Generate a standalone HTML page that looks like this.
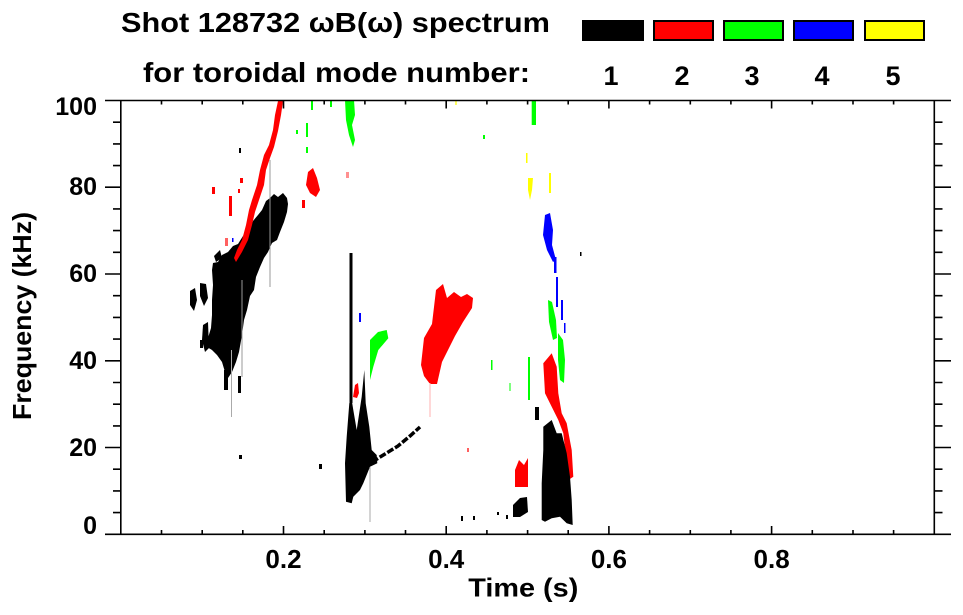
<!DOCTYPE html>
<html>
<head>
<meta charset="utf-8">
<style>
html,body{margin:0;padding:0;background:#fff;}
svg{display:block;}
text{font-family:"Liberation Sans",Arial,sans-serif;font-weight:bold;fill:#000;}
</style>
</head>
<body>
<svg width="963" height="615" viewBox="0 0 963 615" xmlns="http://www.w3.org/2000/svg">
<rect width="963" height="615" fill="#fff"/>

<!-- Title -->
<text x="121" y="32" font-size="28" textLength="429" lengthAdjust="spacingAndGlyphs">Shot 128732 ωB(ω) spectrum</text>
<text x="143" y="82" font-size="28" textLength="387" lengthAdjust="spacingAndGlyphs">for toroidal mode number:</text>

<!-- Legend -->
<rect x="582" y="20" width="62" height="21" fill="#000"/>
<rect x="654" y="21" width="59" height="19" fill="#ff0000" stroke="#000" stroke-width="2"/>
<rect x="724" y="21" width="59" height="19" fill="#00ff00" stroke="#000" stroke-width="2"/>
<rect x="794" y="21" width="59" height="19" fill="#0000ff" stroke="#000" stroke-width="2"/>
<rect x="865" y="21" width="59" height="19" fill="#ffff00" stroke="#000" stroke-width="2"/>
<g font-size="27" text-anchor="middle">
<text x="611" y="85">1</text>
<text x="682" y="85">2</text>
<text x="752" y="85">3</text>
<text x="822" y="85">4</text>
<text x="893" y="85">5</text>
</g>

<!-- DATA -->
<g>
<!-- black main blob (t~0.1-0.2) -->
<polygon fill="#000" points="213,263 218,262 222,255 228,252 233,246 238,244 243,236 248,230 253,221 258,215 262,210 266,201 270,198 274,194 278,197 283,193 287,198 288,204 287,212 284,222 280,232 277,240 272,243 268,252 264,258 260,267 256,277 254,290 250,296 247,310 244,320 242,335 239,352 236,362 232,372 228,378 225,372 222,362 217,355 212,350 207,347 208,338 211,328 212,315 212,300 213,285 212,270"/>
<polygon fill="#000" points="190,291 195,288 197,300 194,311 190,305"/>
<polygon fill="#000" points="200,283 206,284 208,298 204,306 200,296"/>
<polygon fill="#000" points="203,325 208,322 209,348 205,352 202,340"/>
<polygon fill="#000" points="214,256 220,250 222,258 216,262"/>
<rect x="224" y="370" width="4" height="20" fill="#000"/>
<rect x="238" y="376" width="3" height="17" fill="#000"/>
<rect x="231" y="350" width="1" height="67" fill="#aaa"/>
<rect x="241.5" y="280" width="1" height="97" fill="#999"/>
<rect x="269.5" y="160" width="1" height="127" fill="#999"/>
<rect x="239" y="148" width="2" height="5" fill="#000"/>
<rect x="239" y="455" width="3" height="4" fill="#000"/>
<rect x="319" y="464" width="3" height="5" fill="#000"/>
<rect x="200" y="340" width="3" height="8" fill="#000"/>

<!-- red streak -->
<polygon fill="#ff0000" points="278,101 275,115 273,130 269,145 264,155 260,170 257,185 252,200 249,210 246,225 242,240 237,250 234,258 236,262 242,252 248,240 252,225 255,212 259,200 264,185 266,170 270,158 274,147 278,131 281,115 283,101"/>
<rect x="212" y="187" width="3" height="7" fill="#ff0000"/>
<rect x="229" y="196" width="3" height="20" fill="#ff0000"/>
<rect x="240" y="178" width="3" height="5" fill="#ff0000"/>
<rect x="238" y="189" width="2" height="4" fill="#ff0000"/>
<rect x="225" y="238" width="3" height="8" fill="#ff6060"/>
<polygon fill="#ff0000" points="308,172 313,168 317,178 320,190 316,197 310,193 306,185"/>
<rect x="302" y="200" width="3" height="8" fill="#ff0000"/>
<rect x="346" y="172" width="3" height="6" fill="#ff9090"/>

<!-- green top -->
<polygon fill="#00ff00" points="345,100 354,100 355,115 352,125 355,140 353,147 349,135 346,120"/>
<rect x="306" y="123" width="2" height="14" fill="#00ff00"/>
<rect x="311" y="100" width="2" height="10" fill="#00ff00"/>
<rect x="330" y="100" width="2" height="7" fill="#00ff00"/>
<rect x="296" y="130" width="2" height="4" fill="#00ff00"/>
<rect x="306" y="147" width="2" height="6" fill="#00ff00"/>
<rect x="483" y="135" width="2" height="4" fill="#00ff00"/>
<rect x="455" y="101" width="2" height="4" fill="#ffff60"/>

<!-- blue dots -->
<rect x="232" y="238" width="1.5" height="4" fill="#0000ff"/>
<rect x="359" y="313" width="2" height="9" fill="#0000ff"/>

<!-- black vertical at t~0.28 -->
<rect x="349.5" y="253" width="3" height="150" fill="#000"/>
<polygon fill="#000" points="346.7,436.7 349.3,403.3 351.7,400 353.3,410 356.7,430 361.7,396.7 364.3,370 365.7,403.3 369.3,426.7 371.7,450 376.7,455 377.3,463.3 370,466.7 363.3,483.3 360,490 353.3,496.7 351.7,503.3 346,501.7 345,463.3"/>
<rect x="369.5" y="467" width="1" height="55" fill="#aaa"/>
<polyline points="372,462 385,454 398,446 410,436 420,427" fill="none" stroke="#000" stroke-width="3.5" stroke-dasharray="7,2"/>
<polygon fill="#ff0000" points="353,397 355,385 358,383 359,393 357,398"/>
<polygon fill="#00ff00" points="370,340 378,332 386.7,330 388.3,338.3 378.3,350 373.3,366.7 370,380"/>

<!-- red blob t~0.37-0.44 -->
<polygon fill="#ff0000" points="421,365 424,338 432,324 436,290 443,284 447,298 454,292 461,297 467,294 473,298 472,308 463,322 455,336 448,350 442,362 437,384 430,384 424,376"/>
<rect x="429.5" y="383" width="1" height="34" fill="#ffb0b0"/>
<rect x="467" y="448" width="2" height="4" fill="#ff6060"/>

<!-- bottom small black dots -->
<rect x="461" y="516" width="2" height="5" fill="#000"/>
<rect x="473" y="516" width="2" height="4" fill="#000"/>
<rect x="497" y="512" width="2" height="3" fill="#000"/>
<rect x="506" y="515" width="2" height="4" fill="#000"/>

<!-- t~0.5-0.55 structure -->
<rect x="531.7" y="100" width="4.3" height="25" fill="#00ff00"/>
<polygon fill="#ffff00" points="528,178 533,178 532,190 530,200 528,190"/>
<rect x="549" y="173" width="2" height="20" fill="#ffff00"/>
<rect x="526" y="153" width="1.5" height="10" fill="#ffff00"/>
<polygon fill="#0000ff" points="545,215 550,213 553,230 552,245 556,260 553,262 547,250 543,235"/>
<rect x="554" y="257" width="2.5" height="16" fill="#0000ff"/>
<rect x="556" y="277" width="2" height="30" fill="#0000ff"/>
<rect x="561" y="300" width="2" height="20" fill="#0000ff"/>
<rect x="564" y="323" width="1.5" height="10" fill="#0000ff"/>
<rect x="580" y="252" width="1.5" height="4" fill="#000"/>
<polygon fill="#00ff00" points="548,300 552,302 556,320 557,338 553,340 549,322"/>
<polygon fill="#00ff00" points="558,333 563,340 565,360 564,383 560,380 558,360"/>
<rect x="528" y="357" width="2" height="43" fill="#00ff00"/>
<rect x="491" y="360" width="1.5" height="10" fill="#00ff00"/>
<rect x="509" y="383" width="2" height="8" fill="#80ff80"/>
<polygon fill="#ff0000" points="543.3,363.3 551.7,353.3 556.7,366.7 558.3,393.3 561.7,413.3 566.7,423.3 571.7,450 573.3,476.7 568.3,480 563.3,433.3 558.3,420 551.7,406.7 545,393.3"/>
<polygon fill="#ff0000" points="515,470 519,460 524,465 528,458 528,487 515,487"/>
<polygon fill="#000" points="543.3,426.7 551.7,420 556.7,433.3 561.7,433.3 566.7,453.3 570,476.7 571.7,500 572.7,525 566.7,523.3 560,516.7 551.7,518.3 545,521.7 541.7,520 541.7,483.3 543.3,450"/>
<rect x="535" y="407" width="4" height="13" fill="#000"/>
<polygon fill="#000" points="513,505 520,498 527,497 528,512 520,517 513,517"/>
</g>

<!-- AXES -->
<path fill="none" stroke="#000" stroke-width="1.6" d="
M105 100.5 H951 M105 534.3 H951 M120.8 100.5 V534.3 M934.3 100.5 V534.3
M105 447.5 H121 M105 360.8 H121 M105 274 H121 M105 187.2 H121
M113 512.6 H121 M113 490.9 H121 M113 469.2 H121 M113 425.9 H121 M113 404.2 H121 M113 382.5 H121 M113 339.1 H121 M113 317.4 H121 M113 295.7 H121 M113 252.3 H121 M113 230.6 H121 M113 208.9 H121 M113 165.6 H121 M113 143.9 H121 M113 122.2 H121
M934 447.5 H951 M934 360.8 H951 M934 274 H951 M934 187.2 H951
M934 512.6 H942.5 M934 490.9 H942.5 M934 469.2 H942.5 M934 425.9 H942.5 M934 404.2 H942.5 M934 382.5 H942.5 M934 339.1 H942.5 M934 317.4 H942.5 M934 295.7 H942.5 M934 252.3 H942.5 M934 230.6 H942.5 M934 208.9 H942.5 M934 165.6 H942.5 M934 143.9 H942.5 M934 122.2 H942.5
M283.5 534.3 V526 M446.2 534.3 V526 M608.9 534.3 V526 M771.6 534.3 V526
M161.5 534.3 V530 M202.2 534.3 V530 M242.8 534.3 V530 M324.2 534.3 V530 M364.9 534.3 V530 M405.5 534.3 V530 M486.9 534.3 V530 M527.6 534.3 V530 M568.2 534.3 V530 M649.6 534.3 V530 M690.3 534.3 V530 M730.9 534.3 V530 M812.3 534.3 V530 M853 534.3 V530 M893.6 534.3 V530
M283.5 100.5 V108.5 M446.2 100.5 V108.5 M608.9 100.5 V108.5 M771.6 100.5 V108.5
M161.5 100.5 V104.5 M202.2 100.5 V104.5 M242.8 100.5 V104.5 M324.2 100.5 V104.5 M364.9 100.5 V104.5 M405.5 100.5 V104.5 M486.9 100.5 V104.5 M527.6 100.5 V104.5 M568.2 100.5 V104.5 M649.6 100.5 V104.5 M690.3 100.5 V104.5 M730.9 100.5 V104.5 M812.3 100.5 V104.5 M853 100.5 V104.5 M893.6 100.5 V104.5
"/>

<!-- Y tick labels -->
<g font-size="25" text-anchor="end">
<text x="97" y="115">100</text>
<text x="97" y="195">80</text>
<text x="97" y="282">60</text>
<text x="97" y="369">40</text>
<text x="97" y="456">20</text>
<text x="97" y="534">0</text>
</g>

<!-- X tick labels -->
<g font-size="26" text-anchor="middle">
<text x="283.5" y="568">0.2</text>
<text x="446.2" y="568">0.4</text>
<text x="608.9" y="568">0.6</text>
<text x="771.6" y="568">0.8</text>
</g>

<!-- Axis titles -->
<text x="523.3" y="596.5" font-size="26" text-anchor="middle" textLength="110" lengthAdjust="spacingAndGlyphs">Time (s)</text>
<text transform="translate(31,316) rotate(-90)" x="0" y="0" font-size="26" text-anchor="middle" textLength="208" lengthAdjust="spacingAndGlyphs">Frequency (kHz)</text>
</svg>
</body>
</html>
